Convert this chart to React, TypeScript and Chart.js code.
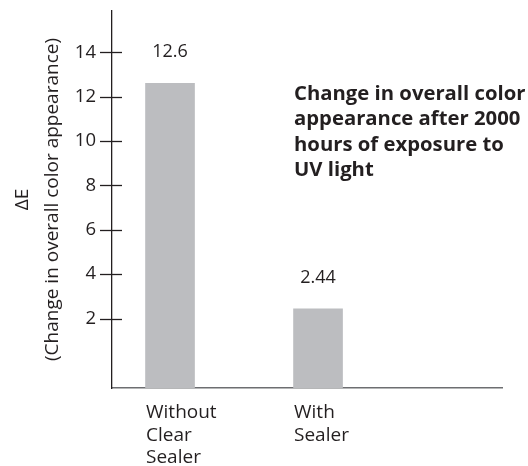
import React, { useEffect, useRef } from "react";
import { Chart, registerables } from "chart.js";

Chart.register(...registerables);

const categories: string[][] = [["Without", "Clear", "Sealer"], ["With", "Sealer"]];
const positions = [1, 2];
const values = [12.6, 2.44];
const valueLabels = ["12.6", "2.44"];
const yTicks = [2, 4, 6, 8, 10, 12, 14];
const yTitle = ["\u0394E", "(Change in overall color appearance)"];
const noteLines = [
  "Change in overall color",
  "appearance after 2000",
  "hours of exposure to",
  "UV light",
];

const TEXT = "#231f20";
const FONT = "'Open Sans', 'DejaVu Sans', sans-serif";

export default function App() {
  const ref = useRef<HTMLCanvasElement | null>(null);

  useEffect(() => {
    document.body.style.margin = "0";
    const canvas = ref.current;
    if (!canvas) return;

    const crossTicks = {
      id: "crossTicks",
      afterDraw(chart: any) {
        const ctx = chart.ctx;
        const y = chart.scales.y;
        const left = chart.chartArea.left;
        ctx.save();
        ctx.strokeStyle = TEXT;
        ctx.lineWidth = 1.3;
        yTicks.forEach((v) => {
          const py = Math.round(y.getPixelForValue(v)) + 0.5;
          ctx.beginPath();
          ctx.moveTo(left - 12, py);
          ctx.lineTo(left + 10, py);
          ctx.stroke();
        });
        ctx.restore();
      },
    };

    const valueText = {
      id: "valueText",
      afterDatasetsDraw(chart: any) {
        const ctx = chart.ctx;
        const meta = chart.getDatasetMeta(0);
        ctx.save();
        ctx.fillStyle = TEXT;
        ctx.font = `18px ${FONT}`;
        ctx.textAlign = "center";
        ctx.textBaseline = "middle";
        meta.data.forEach((bar: any, i: number) => {
          ctx.fillText(valueLabels[i], bar.x, bar.y - 31);
        });
        ctx.restore();
      },
    };

    const note = {
      id: "note",
      afterDraw(chart: any) {
        const ctx = chart.ctx;
        const area = chart.chartArea;
        ctx.save();
        ctx.fillStyle = TEXT;
        ctx.font = `bold 20.3px ${FONT}`;
        ctx.textAlign = "left";
        ctx.textBaseline = "middle";
        noteLines.forEach((t, i) => {
          ctx.fillText(t, area.left + 182, area.top + 83 + i * 25.4);
        });
        ctx.restore();
      },
    };

    const chart = new Chart(canvas, {
      type: "bar",
      data: {
        datasets: [
          {
            data: positions.map((x, i) => ({ x, y: values[i] })),
            backgroundColor: "#bcbdc0",
            borderWidth: 0,
            barThickness: 49,
            base: -1.13,
          } as any,
        ],
      },
      options: {
        animation: false,
        responsive: true,
        maintainAspectRatio: false,
        layout: { padding: { top: 11, right: 26, left: 0, bottom: 0 } },
        plugins: {
          legend: { display: false },
          tooltip: { enabled: false },
        },
        scales: {
          x: {
            type: "linear",
            offset: false,
            min: 0.608,
            max: 3.243,
            afterBuildTicks: (s: any) => {
              s.ticks = positions.map((v) => ({ value: v }));
            },
            afterFit: (s: any) => {
              s.height = 78;
              s.paddingLeft = 0;
              s.paddingRight = 0;
            },
            grid: { drawOnChartArea: false, drawTicks: false },
            border: { display: true, color: "#6d6e71", width: 1.5 },
            ticks: {
              color: TEXT,
              font: { family: FONT, size: 19, lineHeight: 1.2 },
              align: "start",
              labelOffset: -24,
              padding: 13,
              maxRotation: 0,
              autoSkip: false,
              callback: (v: any) => {
                const i = positions.indexOf(Number(v));
                return i >= 0 ? categories[i] : "";
              },
            },
          },
          y: {
            type: "linear",
            min: -1.13,
            max: 15.86,
            afterBuildTicks: (s: any) => {
              s.ticks = yTicks.map((v) => ({ value: v }));
            },
            afterFit: (s: any) => {
              s.width = 112;
              s.paddingTop = 0;
              s.paddingBottom = 0;
            },
            grid: { drawOnChartArea: false, drawTicks: false },
            border: { display: true, color: TEXT, width: 1.3 },
            ticks: {
              color: TEXT,
              font: { family: FONT, size: 18.5 },
              padding: 16,
              autoSkip: false,
            },
            title: {
              display: true,
              text: yTitle,
              color: TEXT,
              font: { family: FONT, size: 19, lineHeight: 1.55 },
              padding: { top: 8, bottom: 0 },
            },
          },
        },
      },
      plugins: [crossTicks, valueText, note],
    });

    return () => chart.destroy();
  }, []);

  return (
    <div style={{ position: "relative", width: 528, height: 466 }}>
      <canvas ref={ref} />
    </div>
  );
}
